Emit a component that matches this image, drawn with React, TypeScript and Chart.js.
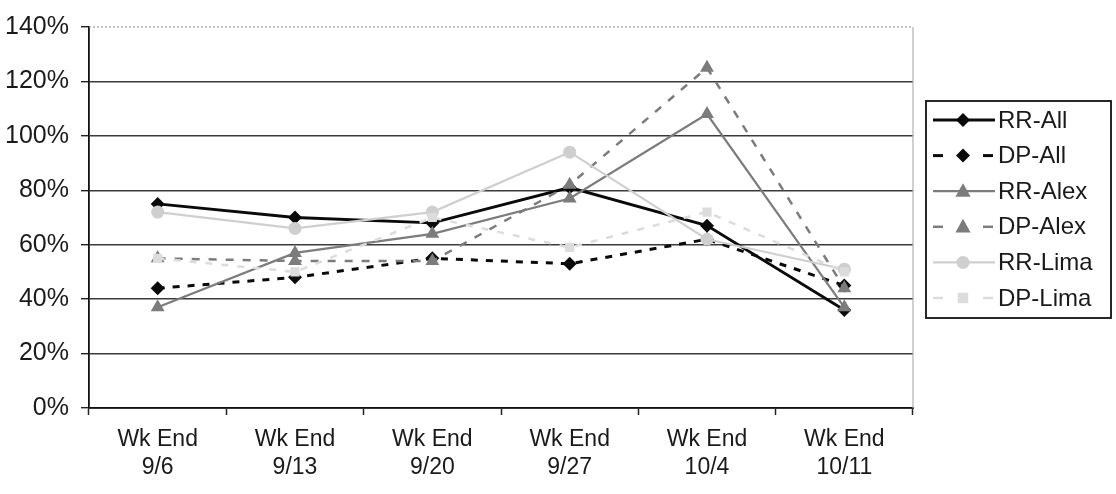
import React, { useEffect, useRef } from "react";
import { Chart, registerables } from "chart.js";
Chart.register(...registerables);

const weeks = ["9/6", "9/13", "9/20", "9/27", "10/4", "10/11"];
const yTickValues = [0, 20, 40, 60, 80, 100, 120, 140];
const seriesNames = ["RR-All", "DP-All", "RR-Alex", "DP-Alex", "RR-Lima", "DP-Lima"];
const rrAll = [75, 70, 68, 81, 67, 36];
const dpAll = [44, 48, 55, 53, 62, 45];
const rrAlex = [37, 57, 64, 77, 108, 37];
const dpAlex = [55, 54, 54, 82, 125, 44];
const rrLima = [72, 66, 72, 94, 62, 51];
const dpLima = [55, 50, 70, 59, 72, 50];

const FONT = "'Liberation Sans', Arial, sans-serif";

function drawMarker(ctx: CanvasRenderingContext2D, shape: string, x: number, y: number, r: number, color: string) {
  ctx.fillStyle = color;
  ctx.beginPath();
  if (shape === "rectRot") {
    ctx.moveTo(x, y - r); ctx.lineTo(x + r, y); ctx.lineTo(x, y + r); ctx.lineTo(x - r, y); ctx.closePath();
  } else if (shape === "triangle") {
    ctx.moveTo(x, y - r); ctx.lineTo(x + r * 0.95, y + r * 0.7); ctx.lineTo(x - r * 0.95, y + r * 0.7); ctx.closePath();
  } else if (shape === "circle") {
    ctx.arc(x, y, r, 0, Math.PI * 2);
  } else {
    ctx.rect(x - r * 0.8, y - r * 0.8, r * 1.6, r * 1.6);
  }
  ctx.fill();
}

export default function App() {
  const ref = useRef<HTMLCanvasElement>(null);
  useEffect(() => {
    if (!ref.current) return;
    const values = [rrAll, dpAll, rrAlex, dpAlex, rrLima, dpLima];
    const styles = [
      { color: "#0a0a0a", dash: [], point: "rectRot", r: 7, w: 2.8 },
      { color: "#0a0a0a", dash: [7, 8], point: "rectRot", r: 7, w: 3 },
      { color: "#7c7c7c", dash: [], point: "triangle", r: 8, w: 2.2 },
      { color: "#7c7c7c", dash: [8, 9], point: "triangle", r: 8, w: 2.5 },
      { color: "#cfcfcf", dash: [], point: "circle", r: 6.5, w: 2.2 },
      { color: "#dcdcdc", dash: [7, 9], point: "rect", r: 6.5, w: 2.5 },
    ];
    const datasets = values.map((v, i) => ({
      label: seriesNames[i],
      data: v,
      borderColor: styles[i].color,
      backgroundColor: styles[i].color,
      borderWidth: styles[i].w,
      borderDash: styles[i].dash,
      pointStyle: styles[i].point,
      pointRadius: styles[i].r,
      pointBorderWidth: 0,
      pointBackgroundColor: styles[i].color,
      tension: 0,
      order: 6 - i,
    }));

    const framePlugin = {
      id: "frame",
      beforeDatasetsDraw(chart: any) {
        const { ctx, chartArea } = chart;
        ctx.save();
        ctx.strokeStyle = "#b0b0b0";
        ctx.lineWidth = 1.2;
        ctx.beginPath();
        ctx.moveTo(chartArea.right, chartArea.top);
        ctx.lineTo(chartArea.right, chartArea.bottom);
        ctx.stroke();
        ctx.setLineDash([2, 2]);
        ctx.strokeStyle = "#9a9a9a";
        ctx.beginPath();
        ctx.moveTo(chartArea.left, chartArea.top);
        ctx.lineTo(chartArea.right, chartArea.top);
        ctx.stroke();
        ctx.restore();
      },
    };

    const legendPlugin = {
      id: "customLegend",
      afterDraw(chart: any) {
        const ctx: CanvasRenderingContext2D = chart.ctx;
        ctx.save();
        const x0 = 926, y0 = 101, x1 = 1111, y1 = 318;
        ctx.strokeStyle = "#111";
        ctx.lineWidth = 1.8;
        ctx.strokeRect(x0, y0, x1 - x0, y1 - y0);
        seriesNames.forEach((name, i) => {
          const s = styles[i];
          const y = 120 + i * 35.6;
          ctx.strokeStyle = s.color;
          ctx.lineWidth = s.w;
          if (s.dash.length) {
            ctx.beginPath(); ctx.moveTo(933, y); ctx.lineTo(943, y); ctx.stroke();
            ctx.beginPath(); ctx.moveTo(983, y); ctx.lineTo(993, y); ctx.stroke();
          } else {
            ctx.beginPath(); ctx.moveTo(933, y); ctx.lineTo(995, y); ctx.stroke();
          }
          drawMarker(ctx, s.point, 963, y, s.r, s.color);
          ctx.fillStyle = "#1a1a1a";
          ctx.font = "24px " + FONT;
          ctx.textBaseline = "middle";
          ctx.textAlign = "left";
          ctx.fillText(name, 998, y + 1);
        });
        ctx.restore();
      },
    };

    const chart = new Chart(ref.current, {
      type: "line",
      data: { labels: weeks.map((w) => ["Wk End", w]), datasets },
      options: {
        animation: false,
        responsive: false,
        maintainAspectRatio: false,
        layout: { padding: { top: 25, right: 203, bottom: 0, left: 0 } },
        plugins: { legend: { display: false }, tooltip: { enabled: false } },
        scales: {
          x: {
            type: "category",
            offset: true,
            afterFit: (s: any) => { s.height = 86; },
            grid: {
              offset: true,
              drawOnChartArea: false,
              drawTicks: true,
              tickLength: 7,
              tickColor: "#222",
              tickWidth: 1.5,
            },
            border: { display: true, color: "#111", width: 1.8 },
            ticks: {
              color: "#1a1a1a",
              font: { family: FONT, size: 23, lineHeight: 1.2 },
              padding: 11,
              maxRotation: 0,
              autoSkip: false,
            },
          },
          y: {
            min: 0,
            max: 140,
            afterFit: (s: any) => { s.width = 89; },
            afterBuildTicks: (s: any) => { s.ticks = yTickValues.map((v) => ({ value: v })); },
            grid: {
              color: (c: any) => (c.tick && c.tick.value === 140 ? "rgba(0,0,0,0)" : "#3a3a3a"),
              lineWidth: 1.4,
              drawTicks: true,
              tickLength: 8,
              tickColor: "#222",
              tickWidth: 1.4,
            },
            border: { display: true, color: "#111", width: 1.8 },
            ticks: {
              color: "#1a1a1a",
              font: { family: FONT, size: 25 },
              padding: 12,
              callback: (v: any) => v + "%",
            },
          },
        },
      },
      plugins: [framePlugin, legendPlugin],
    } as any);
    return () => chart.destroy();
  }, []);

  return (
    <div style={{ position: "absolute", left: 0, top: 0, width: 1116, height: 494, background: "#fff" }}>
      <canvas ref={ref} width={1116} height={494} style={{ display: "block" }} />
    </div>
  );
}
